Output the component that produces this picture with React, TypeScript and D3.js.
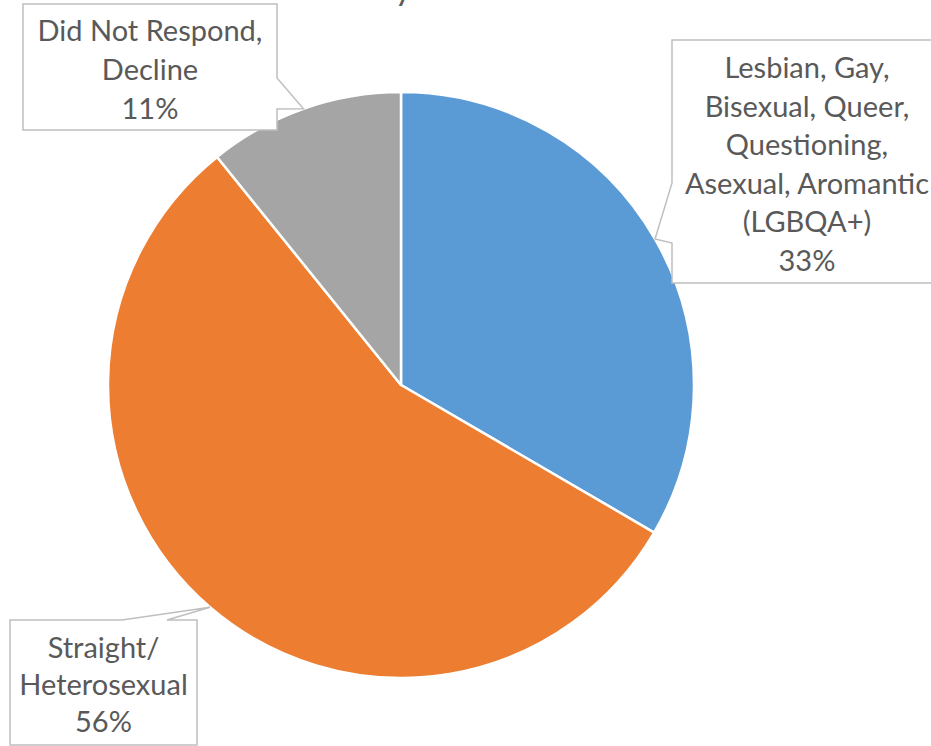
import React, { useEffect } from 'react';
import * as d3 from 'd3';

// slice values (share of respondents, %)
const categories = [
  'Lesbian, Gay, Bisexual, Queer, Questioning, Asexual, Aromantic (LGBQA+)',
  'Straight/ Heterosexual',
  'Did Not Respond, Decline',
];
const values = [33.4, 55.8, 10.8];
const percentLabels = ['33%', '56%', '11%'];
const labelLines = [
  ['Lesbian, Gay,', 'Bisexual, Queer,', 'Questioning,', 'Asexual, Aromantic', '(LGBQA+)'],
  ['Straight/', 'Heterosexual'],
  ['Did Not Respond,', 'Decline'],
];
const colors = ['#5B9BD5', '#ED7D31', '#A5A5A5'];

const W = 931;
const H = 746;
const cx = 401;
const cy = 385;
const R = 293;

// callout boxes: rect + which side the pointer leaves from and where along it
const callouts = [
  { x: 672, y: 40, w: 270, h: 243, side: 'left', b0: 143, b1: 203 },
  { x: 10, y: 620, w: 187, h: 125, side: 'top', b0: 112, b1: 157 },
  { x: 23, y: 4, w: 254, h: 126, side: 'right', b0: 74, b1: 105 },
];

const calloutPath = (c, tip) => {
  const { x, y, w, h, side, b0, b1 } = c;
  const p = d3.path();
  p.moveTo(x, y);
  if (side === 'top') {
    p.lineTo(x + b0, y);
    p.lineTo(tip[0], tip[1]);
    p.lineTo(x + b1, y);
  }
  p.lineTo(x + w, y);
  if (side === 'right') {
    p.lineTo(x + w, y + b0);
    p.lineTo(tip[0], tip[1]);
    p.lineTo(x + w, y + b1);
  }
  p.lineTo(x + w, y + h);
  p.lineTo(x, y + h);
  if (side === 'left') {
    p.lineTo(x, y + b1);
    p.lineTo(tip[0], tip[1]);
    p.lineTo(x, y + b0);
  }
  p.closePath();
  return p.toString();
};

export default function App() {
  useEffect(() => {
    document.body.style.margin = '0';
  }, []);

  const pie = d3.pie<number>().value(d => d).sort(null);
  const arcs = pie(values);
  const arc = d3.arc<d3.PieArcDatum<number>>().innerRadius(0).outerRadius(R);

  const font = 'Lato, "Open Sans", sans-serif';
  const fs = 29;

  return (
    <svg width={W} height={H} style={{ display: 'block', background: '#fff' }}>
      {/* title sits above the visible area; only a descender peeks in */}
      <text x={412} y={0} textAnchor="end" fontFamily={font} fontSize={34} fill="#595959">
        Sexuality
      </text>
      <g transform={`translate(${cx},${cy})`}>
        {arcs.map((a, i) => (
          <path key={categories[i]} d={arc(a) as string} fill={colors[i]} stroke="#fff" strokeWidth={2.5} strokeLinejoin="round" />
        ))}
      </g>
      {arcs.map((a, i) => {
        const mid = (a.startAngle + a.endAngle) / 2;
        const tip: [number, number] = [cx + R * Math.sin(mid), cy - R * Math.cos(mid)];
        const c = callouts[i];
        const lines = [...labelLines[i], percentLabels[i]];
        const lh = i === 1 ? 37 : 38.6;
        const tx = c.x + c.w / 2;
        const top = c.y + (c.h - lines.length * lh) / 2 + 2.5;
        return (
          <g key={'lab' + i}>
            <path d={calloutPath(c, tip)} fill="#fff" stroke="#BFBFBF" strokeWidth={1.5} />
            <text textAnchor="middle" fontFamily={font} fontSize={fs} fill="#595959">
              {lines.map((l, j) => (
                <tspan key={j} x={tx} y={top + j * lh + lh / 2 + fs * 0.36}>{l}</tspan>
              ))}
            </text>
          </g>
        );
      })}
    </svg>
  );
}
